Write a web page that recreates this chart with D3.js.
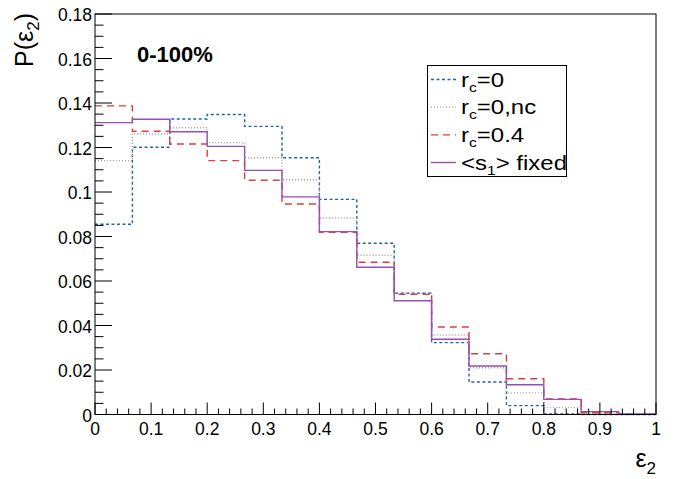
<!DOCTYPE html>
<html>
<head>
<meta charset="utf-8">
<script src="https://cdn.jsdelivr.net/npm/d3@7"></script>
<style>
  body { margin: 0; background: #fff; }
  svg { font-family: "Liberation Sans", Arial, sans-serif; }
</style>
</head>
<body>
<div id="chart"></div>
<script>
// bin edges (15 bins from 0 to 1)
const edges = d3.range(16).map(i => i / 15);

// series values per bin
const rc0 = [0.0855, 0.1201, 0.1328, 0.1348, 0.1295, 0.1154, 0.0967, 0.0770, 0.0545, 0.0323, 0.0146, 0.0040, 0.0002, 0.0000, 0.0000];
const rc0nc = [0.1141, 0.1262, 0.1289, 0.1222, 0.1154, 0.1055, 0.0883, 0.0716, 0.0545, 0.0357, 0.0210, 0.0097, 0.0031, 0.0005, 0.0000];
const rc04 = [0.1387, 0.1273, 0.1216, 0.1141, 0.1053, 0.0946, 0.0819, 0.0684, 0.0540, 0.0393, 0.0273, 0.0161, 0.0070, 0.0008, 0.0001];
const s1fixed = [0.1312, 0.1327, 0.1271, 0.1205, 0.1097, 0.0978, 0.0822, 0.0662, 0.0511, 0.0338, 0.0218, 0.0134, 0.0068, 0.0013, 0.0002];

const xTicks = [0, 0.1, 0.2, 0.3, 0.4, 0.5, 0.6, 0.7, 0.8, 0.9, 1];
const yTicks = [0, 0.02, 0.04, 0.06, 0.08, 0.1, 0.12, 0.14, 0.16, 0.18];

const series = [
    { name: "rc0", label: ["r", "c", "=0"], values: rc0, color: "#2364a3", dash: "3,2.5" },
    { name: "rc0nc", label: ["r", "c", "=0,nc"], values: rc0nc, color: "#a0a0a0", dash: "1,2" },
    { name: "rc04", label: ["r", "c", "=0.4"], values: rc04, color: "#d9403d", dash: "7,5" },
    { name: "s1", label: ["<s", "1", "> fixed"], values: s1fixed, color: "#9a4fb0", dash: null }
];

const width = 685, height = 479;
const frameL = 95, frameR = 656, frameT = 14, frameB = 414.5;

const svg = d3.select("#chart").append("svg")
    .attr("width", width)
    .attr("height", height);

const x = d3.scaleLinear().domain([0, 1]).range([frameL, frameR]);
const y = d3.scaleLinear().domain([0, 0.18]).range([frameB, frameT]);

// histograms
const line = d3.line()
    .x(d => x(d[0]))
    .y(d => y(d[1]))
    .curve(d3.curveStepAfter);

series.forEach(s => {
    const pts = s.values.map((v, i) => [edges[i], v]);
    pts.push([1, s.values[s.values.length - 1]]);
    svg.append("path")
        .attr("d", line(pts))
        .attr("fill", "none")
        .attr("stroke", s.color)
        .attr("stroke-width", 1.4)
        .attr("stroke-dasharray", s.dash);
});

// frame
svg.append("rect")
    .attr("x", frameL).attr("y", frameT)
    .attr("width", frameR - frameL).attr("height", frameB - frameT)
    .attr("fill", "none").attr("stroke", "#000").attr("stroke-width", 1);

// y ticks: major every 0.02, minor every 0.005
const yMinor = d3.range(0, 0.1801, 0.005);
svg.append("g").selectAll("line")
    .data(yMinor)
    .join("line")
    .attr("x1", frameL)
    .attr("x2", (d, i) => frameL + (i % 4 === 0 ? 17 : 8.5))
    .attr("y1", d => y(d)).attr("y2", d => y(d))
    .attr("stroke", "#000");

svg.append("g").selectAll("text")
    .data(yTicks)
    .join("text")
    .attr("x", frameL - 3)
    .attr("y", d => y(d) + 7)
    .attr("text-anchor", "end")
    .style("font-size", "17.5px")
    .text(d => d === 0 ? "0" : d3.format("~g")(d));

// x ticks: major every 0.1, minor every 0.02
const xMinor = d3.range(0, 1.0001, 0.02);
svg.append("g").selectAll("line")
    .data(xMinor)
    .join("line")
    .attr("x1", d => x(d)).attr("x2", d => x(d))
    .attr("y1", frameB)
    .attr("y2", (d, i) => frameB - (i % 5 === 0 ? 12 : 6))
    .attr("stroke", "#000");

svg.append("g").selectAll("text")
    .data(xTicks)
    .join("text")
    .attr("x", d => x(d))
    .attr("y", 435)
    .attr("text-anchor", "middle")
    .style("font-size", "17.5px")
    .text(d => d3.format("~g")(d));

// axis titles
const yTitle = svg.append("text")
    .attr("transform", "translate(33,13) rotate(-90)")
    .attr("text-anchor", "end")
    .style("font-size", "25px");
yTitle.append("tspan").text("P(ε");
yTitle.append("tspan").attr("dy", 6).style("font-size", "17px").text("2");
yTitle.append("tspan").attr("dy", -6).text(")");

const xTitle = svg.append("text")
    .attr("x", frameR)
    .attr("y", 467)
    .attr("text-anchor", "end")
    .style("font-size", "25px");
xTitle.append("tspan").text("ε");
xTitle.append("tspan").attr("dy", 7).style("font-size", "17px").text("2");

// centrality label
svg.append("text")
    .attr("x", 137)
    .attr("y", 62)
    .style("font-size", "22px")
    .style("font-weight", "bold")
    .text("0-100%");

// legend
const leg = svg.append("g");
leg.append("rect")
    .attr("x", 427.5).attr("y", 65.5)
    .attr("width", 139).attr("height", 111)
    .attr("fill", "#fff").attr("stroke", "#000");

const legY = d3.scalePoint().domain(series.map(s => s.name)).range([79.5, 162.5]);

series.forEach(s => {
    const cy = legY(s.name);
    leg.append("line")
        .attr("x1", 431).attr("x2", 456)
        .attr("y1", cy).attr("y2", cy)
        .attr("stroke", s.color)
        .attr("stroke-width", 1.4)
        .attr("stroke-dasharray", s.dash);
    // text is drawn a bit wider than tall, as in the original
    const t = leg.append("text")
        .attr("transform", `translate(461,${cy + 7}) scale(1.2,1)`)
        .style("font-size", "20px");
    t.append("tspan").text(s.label[0]);
    t.append("tspan").attr("dy", 5).style("font-size", "13px").text(s.label[1]);
    t.append("tspan").attr("dy", -5).text(s.label[2]);
});
</script>
</body>
</html>
